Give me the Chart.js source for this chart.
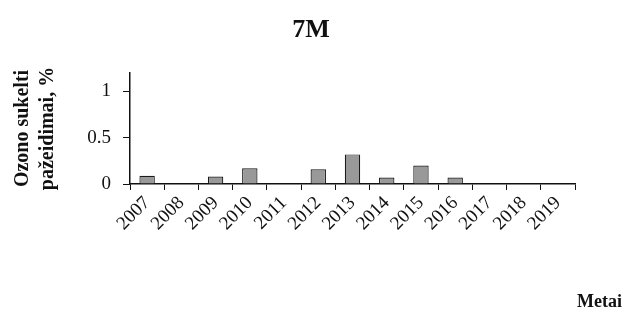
<!DOCTYPE html>
<html>
<head>
<meta charset="utf-8">
<script src="https://cdn.jsdelivr.net/npm/chart.js@4/dist/chart.umd.min.js"></script>
<style>
  html, body { margin: 0; padding: 0; background: #fff; }
  #wrap { width: 630px; height: 316px; }
</style>
</head>
<body>
<div id="wrap"><canvas id="ozoneChart" width="630" height="316"></canvas></div>
<script>
// duomenys
var years = ["2007", "2008", "2009", "2010", "2011", "2012", "2013",
             "2014", "2015", "2016", "2017", "2018", "2019"];
var damage = [0.09, 0, 0.08, 0.17, 0, 0.16, 0.32, 0.07, 0.2, 0.07, 0, 0, 0];
var yTickValues = [0, 0.5, 1];

var serif = "'Liberation Serif', 'Times New Roman', serif";

var ctx = document.getElementById("ozoneChart").getContext("2d");

var myChart = new Chart(ctx, {
    type: "bar",
    data: {
        labels: years,
        datasets: [{
            label: "Ozono sukelti pažeidimai, %",
            data: damage,
            backgroundColor: "#999999",
            borderColor: "#1a1a1a",
            borderWidth: 1.2,
            barPercentage: 0.45,
            categoryPercentage: 1
        }]
    },
    options: {
        responsive: false,
        animation: false,
        layout: { padding: { left: 0, right: 8, top: 0, bottom: 0 } },
        plugins: {
            legend: { display: false },
            tooltip: { enabled: false },
            title: {
                display: true,
                text: "7M",
                color: "#111",
                font: { family: serif, size: 26, weight: "bold", lineHeight: 1.2 },
                padding: { top: 15, bottom: 26.8 }
            },
            subtitle: {
                display: true,
                position: "bottom",
                align: "end",
                text: "Metai",
                color: "#111",
                font: { family: serif, size: 18, weight: "bold" },
                padding: { top: 0, bottom: 3 }
            }
        },
        scales: {
            x: {
                grid: {
                    display: true,
                    drawOnChartArea: false,
                    drawTicks: true,
                    tickLength: 6,
                    tickColor: "#111",
                    offset: true
                },
                border: { display: true, color: "#111", width: 1.5 },
                ticks: {
                    autoSkip: false,
                    minRotation: 45,
                    maxRotation: 45,
                    padding: 2,
                    color: "#111",
                    font: { family: serif, size: 19 }
                },
                afterFit: function (scale) { scale.height = 107.4; }
            },
            y: {
                min: 0,
                max: 1.2,
                grid: {
                    display: true,
                    drawOnChartArea: false,
                    tickLength: 7,
                    tickColor: "#111"
                },
                border: { display: true, color: "#111", width: 1.5 },
                ticks: {
                    stepSize: 0.5,
                    padding: 12,
                    color: "#111",
                    font: { family: serif, size: 19 },
                    callback: function (value) { return String(value); }
                },
                afterBuildTicks: function (scale) {
                    scale.ticks = yTickValues.map(function (v) { return { value: v }; });
                },
                title: {
                    display: true,
                    text: ["Ozono sukelti", "pažeidimai, %"],
                    color: "#111",
                    font: { family: serif, size: 20, weight: "bold", lineHeight: 1.25 },
                    padding: { top: 10, bottom: 0 }
                },
                afterFit: function (scale) { scale.width = 130; }
            },
            yRight: {
                position: "right",
                display: true,
                grid: { display: false },
                border: { display: false },
                ticks: { display: false },
                afterFit: function (scale) { scale.width = 47; }
            }
        }
    }
});
</script>
</body>
</html>
